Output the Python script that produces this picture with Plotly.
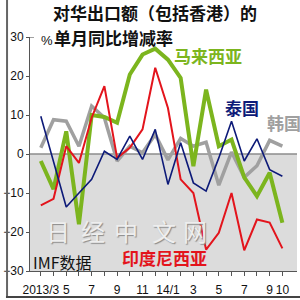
import plotly.graph_objects as go

months = list(range(20))
tick_vals = [0, 2, 4, 6, 8, 10, 12, 14, 16, 18, 19]
tick_text = ["2013/3", "5", "7", "9", "11", "14/1", "3", "5", "7", "9", "10"]

korea = [1.6, 8.8, 8.4, 2.0, 12.3, 9.3, -1.8, 2.0, 0.3, 5.0, -1.5, 4.0, 2.0, 3.0, -8.0, 0.5, -6.0, -3.0, 3.5, 2.0]
malaysia = [-1.8, -9.0, 5.8, -18.0, 10.0, 9.5, 8.0, 20.4, 25.5, 27.0, 24.2, 19.5, -3.1, 16.5, 2.0, 3.7, -6.0, -10.8, -4.8, -17.6]
thailand = [9.7, -2.0, -13.6, -10.0, -6.5, 0.7, -1.4, 4.6, -1.4, 6.3, -7.8, 2.9, -7.4, -9.5, -1.0, 8.4, -1.8, 3.9, -4.0, -5.7]
indonesia = [-13.2, -11.5, 2.0, -2.3, 9.3, 17.4, -1.0, 1.6, 6.3, 22.1, 11.8, -6.5, -10.0, -24.5, -20.2, -10.0, -24.7, -16.8, -17.6, -24.2]

CJK = "Noto Sans CJK SC"
fig = go.Figure()
fig.add_trace(go.Scatter(x=months, y=korea, mode="lines", line=dict(color="#a0a0a0", width=3.5)))
fig.add_trace(go.Scatter(x=months, y=malaysia, mode="lines", line=dict(color="#7cb51e", width=4)))
fig.add_trace(go.Scatter(x=months, y=indonesia, mode="lines", line=dict(color="#e3141c", width=2)))
fig.add_trace(go.Scatter(x=months, y=thailand, mode="lines", line=dict(color="#0d1a78", width=1.6)))

shapes = [
    dict(type="rect", xref="paper", yref="y", x0=0, x1=1, y0=-30, y1=0,
         fillcolor="#dcdcdc", line=dict(width=0), layer="below"),
    dict(type="line", xref="paper", yref="y", x0=0, x1=1, y0=0, y1=0,
         line=dict(color="#8c8c8c", width=1.5), layer="below"),
    dict(type="line", xref="paper", yref="y", x0=0, x1=0.015, y0=30, y1=30,
         line=dict(color="#444", width=1)),
    dict(type="line", xref="paper", yref="paper", x0=-0.086, x1=-0.086, y0=-0.115, y1=1.16,
         line=dict(color="#666", width=2)),
    dict(type="line", xref="paper", yref="paper", x0=-0.09, x1=1.02, y0=-0.111, y1=-0.111,
         line=dict(color="#444", width=2)),
]

ann = [
    dict(text="<b>对华出口额（包括香港）的</b>", x=45, y=12.5, size=17, color="#111"),
    dict(text="<b>单月同比增减率</b>", x=47, y=37, size=17, color="#111"),
    dict(text="%", x=33, y=41, size=13, color="#111", font="Liberation Sans"),
    dict(text="<b>马来西亚</b>", x=169, y=56, size=17, color="#7cb51e"),
    dict(text="<b>泰国</b>", x=221, y=108, size=17, color="#0d1a78"),
    dict(text="<b>韩国</b>", x=264, y=123, size=17, color="#a0a0a0"),
    dict(text="<b>印度尼西亚</b>", x=116, y=258, size=17, color="#e3141c"),
    dict(text="IMF数据", x=25, y=263, size=16, color="#111"),
]
annotations = []

wm = [("日", 53), ("经", 88), ("中", 122), ("文", 161), ("网", 193)]
for ch, cx in wm:
    annotations.append(dict(
        text=ch, xref="paper", yref="paper", x=(cx - 24) / 273, y=(272 - 231) / 235,
        xanchor="center", yanchor="middle", showarrow=False,
        font=dict(family=CJK, size=24, color="#eeeeee", shadow="1px 1px 1px #8a8a8a")))

for a in ann:
    annotations.append(dict(
        text=a["text"], xref="paper", yref="paper",
        x=(a["x"] - 24) / 273, y=(272 - a["y"]) / 235,
        xanchor="left", yanchor="middle", align="left", showarrow=False,
        font=dict(family=a.get("font", CJK), size=a["size"], color=a["color"])))

fig.update_layout(
    width=300, height=300,
    margin=dict(l=24, r=3, t=37, b=28),
    paper_bgcolor="white", plot_bgcolor="white",
    showlegend=False,
    shapes=shapes, annotations=annotations,
    font=dict(family="Liberation Sans", size=12, color="#111"),
    xaxis=dict(range=[-0.85, 20.15], tickmode="array", tickvals=tick_vals, ticktext=tick_text,
               showgrid=False, zeroline=False, showline=True, linecolor="#555", linewidth=1,
               ticks="outside", ticklen=4, tickcolor="#555",
               minor=dict(tickvals=months, ticks="outside", ticklen=4, tickcolor="#555"),
               tickfont=dict(size=12), ticklabelstandoff=4),
    yaxis=dict(range=[-30, 30], tickvals=[-30, -20, -10, 0, 10, 20, 30],
               showgrid=False, zeroline=False, showline=True, linecolor="#555", linewidth=1,
               ticks="outside", ticklen=3, tickcolor="#555", tickfont=dict(size=12),
               ticklabelstandoff=0),
)

fig.write_html("out.html")
